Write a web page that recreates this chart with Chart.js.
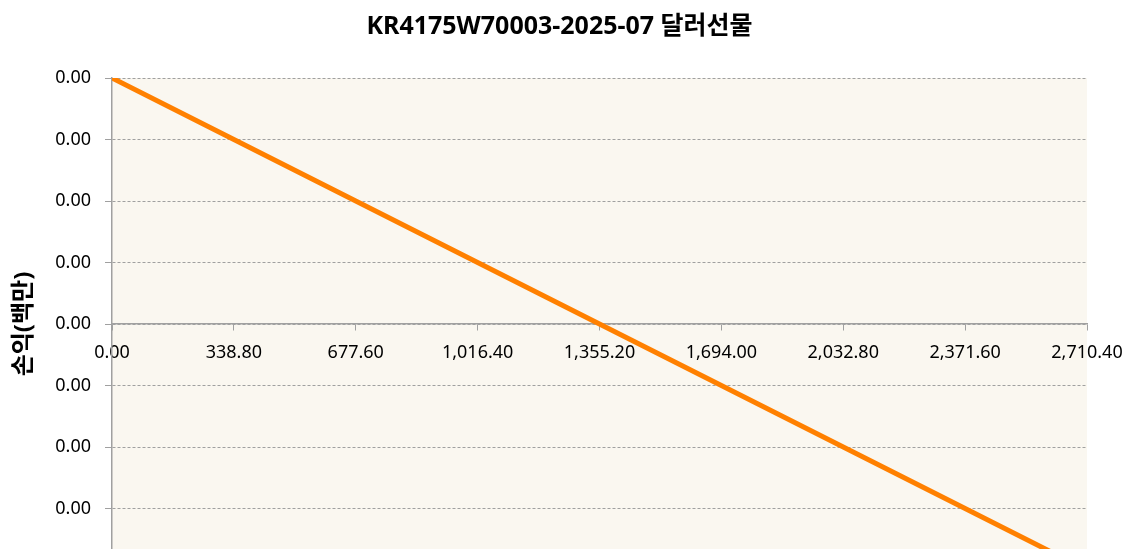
<!DOCTYPE html>
<html>
<head>
<meta charset="utf-8">
<script src="https://cdn.jsdelivr.net/npm/chart.js@4"></script>
<style>
  html, body { margin: 0; padding: 0; background: #ffffff; overflow: hidden; }
  #wrap { position: relative; width: 1131px; height: 600px; }
</style>
</head>
<body>
<div id="wrap"><canvas id="c"></canvas></div>
<script>
// ---- data ----
const chartTitle = 'KR4175W70003-2025-07 달러선물';
const yAxisTitle = '손익(백만)';
const priceValues = [0, 338.8, 677.6, 1016.4, 1355.2, 1694.0, 2032.8, 2371.6, 2710.4];
const pnlValues   = [0.004, 0.003, 0.002, 0.001, 0, -0.001, -0.002, -0.003, -0.004];
const xTickValues = [0, 338.8, 677.6, 1016.4, 1355.2, 1694.0, 2032.8, 2371.6, 2710.4];
const yTickValues = [0.004, 0.003, 0.002, 0.001, 0, -0.001, -0.002, -0.003, -0.004];

const fmt2 = new Intl.NumberFormat('en-US', { minimumFractionDigits: 2, maximumFractionDigits: 2 });
const fmtY = v => (Math.round(v * 100) / 100 + 0).toFixed(2);

const FONT = '"Noto Sans", "Noto Sans CJK KR", sans-serif';

const bgPlugin = {
  id: 'plotBg',
  beforeDraw(chart) {
    const { ctx, chartArea: a } = chart;
    ctx.save();
    ctx.fillStyle = '#FAF7F0';
    ctx.fillRect(a.left, a.top, a.right - a.left, a.bottom - a.top);
    ctx.restore();
  }
};

new Chart(document.getElementById('c'), {
  type: 'line',
  data: {
    datasets: [{
      data: priceValues.map((x, i) => ({ x, y: pnlValues[i] })),
      borderColor: '#FF8000',
      borderWidth: 5,
      pointRadius: 0,
      tension: 0,
      fill: false
    }]
  },
  plugins: [bgPlugin],
  options: {
    responsive: true,
    maintainAspectRatio: false,
    animation: false,
    layout: { padding: { top: 0, right: 12, bottom: 30, left: 0 } },
    plugins: {
      legend: { display: false },
      tooltip: { enabled: false },
      title: {
        display: true,
        text: chartTitle,
        color: '#000000',
        font: { family: FONT, size: 25, weight: 'bold' },
        padding: { top: 12, bottom: 36 }
      }
    },
    scales: {
      x: {
        type: 'linear',
        position: { y: 0 },
        min: 0,
        max: 2710.4,
        afterBuildTicks: s => { s.ticks = xTickValues.map(v => ({ value: v })); },
        afterFit: s => { s.paddingRight = 44; s.paddingLeft = 0; },
        ticks: {
          color: '#000000',
          font: { family: FONT, size: 18 },
          padding: 12,
          maxRotation: 0,
          autoSkip: false,
          callback: v => fmt2.format(v)
        },
        grid: { drawOnChartArea: false, drawTicks: true, tickLength: 6, color: '#A0A0A0', tickColor: '#A0A0A0' },
        border: { display: true, color: '#A0A0A0', width: 1.5 }
      },
      y: {
        type: 'linear',
        min: -0.004,
        max: 0.004,
        afterBuildTicks: s => { s.ticks = yTickValues.map(v => ({ value: v })); },
        afterFit: s => { s.width = 112; },
        ticks: {
          color: '#000000',
          font: { family: FONT, size: 18 },
          padding: 14,
          autoSkip: false,
          callback: v => fmtY(v)
        },
        title: {
          display: true,
          text: yAxisTitle,
          color: '#000000',
          font: { family: FONT, size: 24, weight: 'bold' },
          padding: { top: 10, bottom: 0 }
        },
        grid: { color: '#A0A0A0', lineWidth: 1, tickLength: 7, tickColor: '#A0A0A0' },
        border: { display: true, color: '#A0A0A0', width: 1.5, dash: [3, 2] }
      }
    }
  }
});
</script>
</body>
</html>
